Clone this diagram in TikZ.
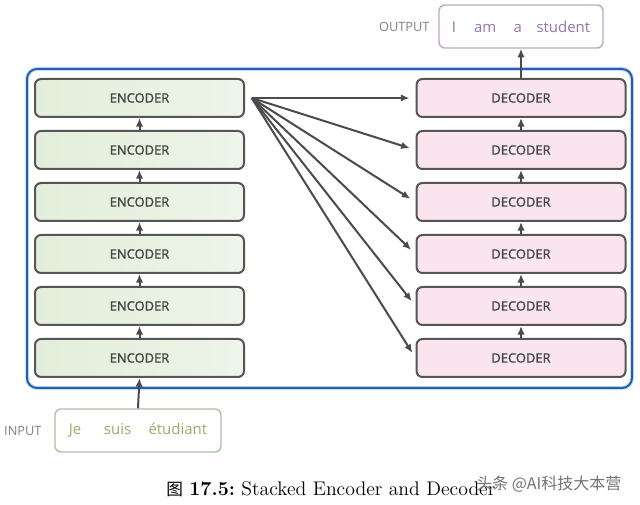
\documentclass[tikz,border=0pt]{standalone}
\usepackage{fontspec}
\usetikzlibrary{arrows.meta}
\usetikzlibrary{positioning}
\newfontfamily\boxfont{Open Sans}[FakeBold=1.6]
\newfontfamily\wordfont{Open Sans}
\newfontfamily\cjkfont{Noto Sans CJK SC}
% colours of the stacks
\definecolor{encleft}{RGB}{226,238,218}
\definecolor{encright}{RGB}{238,244,233}
\definecolor{decfill}{RGB}{250,228,238}
\definecolor{boxline}{RGB}{85,85,85}
\definecolor{boxtext}{RGB}{70,70,70}
\definecolor{arrowgrey}{RGB}{75,75,75}
\definecolor{frameblue}{RGB}{35,95,170}
\definecolor{frameglow}{RGB}{205,222,242}
% colours of the sentences
\definecolor{outline}{RGB}{188,168,200}
\definecolor{outtext}{RGB}{150,118,168}
\definecolor{inline}{RGB}{172,194,165}
\definecolor{intext}{RGB}{150,175,100}
\definecolor{taggrey}{RGB}{130,130,130}
\definecolor{wmgrey}{RGB}{115,115,115}

\begin{document}
\begin{tikzpicture}[x=0.75pt, y=-0.75pt,
	stackbox/.style={draw=boxline, line width=1.5pt, rounded corners=4.5pt,
		minimum width=156.75pt, minimum height=28.5pt, text=boxtext,
		font=\boxfont\fontsize{9.7}{11}\selectfont},
	encbox/.style={stackbox, left color=encleft, right color=encright},
	decbox/.style={stackbox, fill=decfill},
	sentbox/.style={line width=1.1pt, rounded corners=4.5pt, minimum height=32.25pt,
		font=\wordfont\fontsize{11.2}{13}\selectfont},
	tag/.style={text=taggrey, font=\wordfont\fontsize{9.6}{11}\selectfont},
	arr/.style={-{Latex[length=6.5pt,width=5.5pt]}, line width=1.5pt, draw=arrowgrey}]
	% 640px x 505px, one unit = one pixel
	\useasboundingbox (0,0) rectangle (640,505);
	\fill[white] (0,0) rectangle (640,505);
	% blue frame round both stacks
	\draw[frameglow, line width=3.2pt, rounded corners=7.5pt] (27,69) rectangle (632,388);
	\draw[frameblue, line width=1.5pt, rounded corners=7.5pt] (27,69) rectangle (632,388);
	% encoder stack - bottom to top
	\node[encbox] (enc1) at (139.5,358) {ENCODER};
	\node[encbox] (enc2) at (139.5,306) {ENCODER};
	\node[encbox] (enc3) at (139.5,254) {ENCODER};
	\node[encbox] (enc4) at (139.5,202) {ENCODER};
	\node[encbox] (enc5) at (139.5,150) {ENCODER};
	\node[encbox] (enc6) at (139.5,98) {ENCODER};
	% decoder stack - bottom to top
	\node[decbox] (dec1) at (521,358) {DECODER};
	\node[decbox] (dec2) at (521,306) {DECODER};
	\node[decbox] (dec3) at (521,254) {DECODER};
	\node[decbox] (dec4) at (521,202) {DECODER};
	\node[decbox] (dec5) at (521,150) {DECODER};
	\node[decbox] (dec6) at (521,98) {DECODER};
	% sentences
	\node[sentbox, draw=outline, text=outtext, minimum width=123pt] (out) at (521,26.5)
		{I\hspace{13.5pt}am\hspace{13pt}a\hspace{11pt}student};
	\node[sentbox, draw=inline, text=intext, minimum width=124.5pt] (in) at (138,430.5)
		{Je\hspace{17pt}suis\hspace{13pt}étudiant};
	\node[tag, left=3pt of out] (outtag) {OUTPUT};
	\node[tag, left=6pt of in] (intag) {INPUT};
	% arrows up the stacks
	\draw[arr] (in.north) -- (enc1.south);
	\draw[arr] (enc1.north) -- (enc2.south);
	\draw[arr] (enc2.north) -- (enc3.south);
	\draw[arr] (enc3.north) -- (enc4.south);
	\draw[arr] (enc4.north) -- (enc5.south);
	\draw[arr] (enc5.north) -- (enc6.south);
	\draw[arr] (dec1.north) -- (dec2.south);
	\draw[arr] (dec2.north) -- (dec3.south);
	\draw[arr] (dec3.north) -- (dec4.south);
	\draw[arr] (dec4.north) -- (dec5.south);
	\draw[arr] (dec5.north) -- (dec6.south);
	\draw[arr] (dec6.north) -- (out.south);
	% fan from the last encoder to every decoder
	\coordinate (fan) at ([xshift=5pt]enc6.east);
	\draw[arr, shorten >=4.5pt] (fan) -- (dec6.west);
	\draw[arr, shorten >=4.5pt] (fan) -- (dec5.west);
	\draw[arr, shorten >=4.5pt] (fan) -- (dec4.west);
	\draw[arr, shorten >=4.5pt] (fan) -- (dec3.west);
	\draw[arr, shorten >=4.5pt] (fan) -- (dec2.west);
	\draw[arr, shorten >=4.5pt] (fan) -- (dec1.west);
	% caption and watermark
	\node[anchor=base west, inner sep=0pt, font=\fontsize{14.8}{17}\selectfont] (caption) at (166,496)
		{{\cjkfont\fontsize{12.5}{14}\selectfont 图}\ \textbf{17.5:}\ Stacked Encoder and Decoder};
	\node[anchor=west, inner sep=0pt, text=wmgrey, font=\cjkfont\fontsize{12}{14}\selectfont] (mark) at (476,484)
		{头条 @AI科技大本营};
\end{tikzpicture}
\end{document}
